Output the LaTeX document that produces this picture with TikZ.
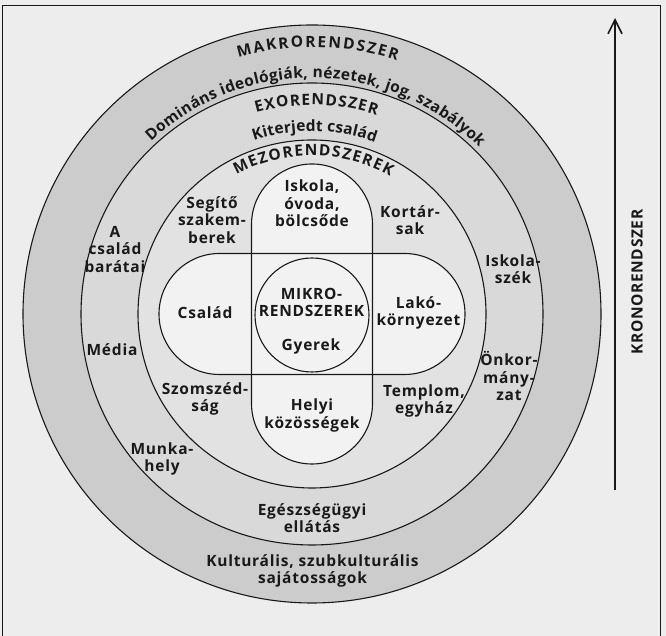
\documentclass[tikz,border=0pt]{standalone}
\usepackage{fontspec}
\usetikzlibrary{calc,decorations.text,arrows.meta}
\setmainfont{Open Sans}
\newfontfamily\osans{Open Sans}
\newcommand\lblf{\osans\bfseries}
\newcommand\lblfs{\lblf\fontsize{15.5}{17.5}\selectfont\addfontfeature{LetterSpace=5}}
\newcommand\ttlf{\lblf\fontsize{15.5}{18}\selectfont}
\newcommand\kronf{\lblf\fontsize{15.5}{18}\selectfont\addfontfeature{LetterSpace=4}}
\definecolor{bgc}{gray}{0.93}
\definecolor{macroc}{gray}{0.80}
\definecolor{exoc}{gray}{0.85}
\definecolor{mesoc}{gray}{0.885}
\definecolor{microc}{gray}{0.95}
\definecolor{inkc}{gray}{0.1}
\begin{document}
\begin{tikzpicture}[x=1pt,y=1pt,
  lbl/.style={font=\lblfs, align=center, inner sep=0pt, text=inkc},
  ring/.style={draw=inkc, line width=1.1pt},
  arctext/.style={decorate, decoration={text along path, text color=inkc, text align={fit to path}, text={#1}}}
  ]
\useasboundingbox (0,0) rectangle (666,636);
\fill[bgc] (0,0) rectangle (666,636);
\coordinate (C) at (312,322);
% frame
\draw[inkc, line width=0.9pt] (2.5,-3) -- (2.5,631) -- (660,631) -- (660,-3);
% rings
\filldraw[ring, fill=macroc] (C) circle[radius=289];
\filldraw[ring, fill=exoc] (C) circle[radius=231];
\filldraw[ring, fill=mesoc] (C) circle[radius=174];
% stadiums
\fill[microc, rounded corners=60.5] ($(C)+(-60.5,-150)$) rectangle ($(C)+(60.5,150)$);
\fill[microc, rounded corners=60.5] ($(C)+(-153,-60.5)$) rectangle ($(C)+(153,60.5)$);
\draw[ring, rounded corners=60.5] ($(C)+(-60.5,-150)$) rectangle ($(C)+(60.5,150)$);
\draw[ring, rounded corners=60.5] ($(C)+(-153,-60.5)$) rectangle ($(C)+(153,60.5)$);
\draw[ring] ($(C)+(0,-1)$) circle[radius=57];
% curved texts
\path[arctext={|\ttlf|MAKRORENDSZER}] ($(C)+(106:267)$) arc[start angle=106, end angle=71.5, radius=267];
\path[arctext={|\ttlf|Domináns ideológiák, nézetek, jog, szabályok}] ($(C)+(133:236)$) arc[start angle=133, end angle=45, radius=236];
\path[arctext={|\ttlf|EXORENDSZER}] ($(C)+(105.5:209)$) arc[start angle=105.5, end angle=72, radius=209];
\path[arctext={|\ttlf|Kiterjedt család}] ($(C)+(108.5:183)$) arc[start angle=108.5, end angle=69.8, radius=183];
\path[arctext={|\ttlf|MEZORENDSZEREK}] ($(C)+(118.5:158.5)$) arc[start angle=118.5, end angle=60.5, radius=158.5];
% labels
\node[lbl] (segito) at (212,416) {Segítő\\szakem-\\berek};
\node[lbl] (iskola) at (312,432.5) {Iskola,\\óvoda,\\bölcsőde};
\node[lbl] (kortars) at (410,416) {Kortár-\\sak};
\node[lbl] (csalad) at (205,323) {Család};
\node[lbl] (mikro) at (311.5,333.5) {MIKRO-\\RENDSZEREK};
\node[lbl] (gyerek) at (311,290) {Gyerek};
\node[lbl] (lako) at (418.5,323) {Lakó-\\környezet};
\node[lbl] (szomszed) at (205,237) {Szomszéd-\\ság};
\node[lbl] (helyi) at (312,220.5) {Helyi\\közösségek};
\node[lbl] (templom) at (424,235) {Templom,\\egyház};
\node[lbl] (barat) at (115,386.5) {A\\család\\barátai};
\node[lbl] (media) at (112,286.5) {Média};
\node[lbl] (iskolaszek) at (513,367) {Iskola-\\szék};
\node[lbl] (onkorm) at (509,260) {Önkor-\\mány-\\zat};
\node[lbl] (munka) at (162,177) {Munka-\\hely};
\node[lbl] (egeszseg) at (312,118) {Egészségügyi\\ellátás};
\node[lbl] (kultura) at (312.5,65) {Kulturális, szubkulturális\\sajátosságok};
% chronosystem arrow
\coordinate (arrB) at (615,146);
\coordinate (arrT) at (615,618);
\draw[inkc, line width=1.8pt, -{Straight Barb[length=14pt,width=14pt,line width=1.6pt]}] (arrB) -- (arrT);
\node[font=\kronf, rotate=90, text=inkc, inner sep=0pt] (kron) at (637,354) {KRONORENDSZER};
\end{tikzpicture}
\end{document}
